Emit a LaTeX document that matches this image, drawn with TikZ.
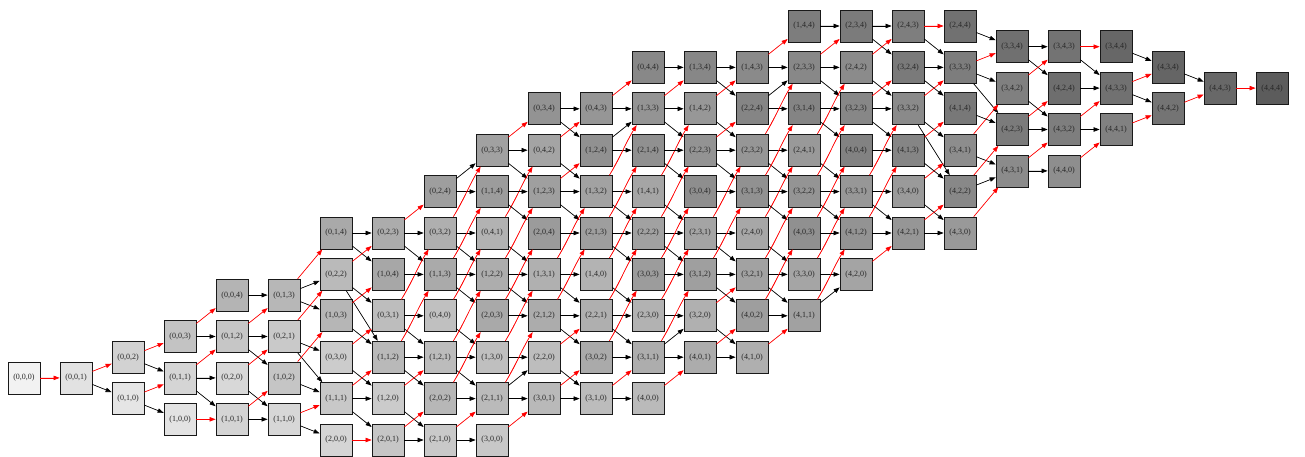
\documentclass[tikz,border=0pt]{standalone}
\usepackage{fontspec}
\setmainfont{Liberation Serif}
\usetikzlibrary{arrows.meta}
\begin{document}
\begin{tikzpicture}[x=1pt,y=1pt,
  st/.style={draw=black!90, line width=0.75pt, minimum width=32pt, minimum height=32pt,
    inner sep=0pt, font=\fontsize{8}{9}\selectfont, text=black!85},
  ed/.style={line width=0.65pt, -{Triangle[length=6pt,width=4.4pt]}},
  redge/.style={ed, draw=red, fill=red},
  bedge/.style={ed, draw=black, fill=black}]
\useasboundingbox (0,0) rectangle (1305,456);
% nodes: a/b/c/row
\foreach \a/\b/\c/\k in {
0/0/0/3, 0/0/1/3,
0/0/2/4, 0/1/0/2,
0/0/3/5, 0/1/1/3, 1/0/0/1,
0/0/4/7, 0/1/2/5, 0/2/0/3, 1/0/1/1,
0/1/3/7, 0/2/1/5, 1/0/2/3, 1/1/0/1,
0/1/4/10, 0/2/2/8, 1/0/3/6, 0/3/0/4, 1/1/1/2, 2/0/0/0,
0/2/3/10, 1/0/4/8, 0/3/1/6, 1/1/2/4, 1/2/0/2, 2/0/1/0,
0/2/4/12, 0/3/2/10, 1/1/3/8, 0/4/0/6, 1/2/1/4, 2/0/2/2, 2/1/0/0,
0/3/3/14, 1/1/4/12, 0/4/1/10, 1/2/2/8, 2/0/3/6, 1/3/0/4, 2/1/1/2, 3/0/0/0,
0/3/4/16, 0/4/2/14, 1/2/3/12, 2/0/4/10, 1/3/1/8, 2/1/2/6, 2/2/0/4, 3/0/1/2,
0/4/3/16, 1/2/4/14, 1/3/2/12, 2/1/3/10, 1/4/0/8, 2/2/1/6, 3/0/2/4, 3/1/0/2,
0/4/4/18, 1/3/3/16, 2/1/4/14, 1/4/1/12, 2/2/2/10, 3/0/3/8, 2/3/0/6, 3/1/1/4, 4/0/0/2,
1/3/4/18, 1/4/2/16, 2/2/3/14, 3/0/4/12, 2/3/1/10, 3/1/2/8, 3/2/0/6, 4/0/1/4,
1/4/3/18, 2/2/4/16, 2/3/2/14, 3/1/3/12, 2/4/0/10, 3/2/1/8, 4/0/2/6, 4/1/0/4,
1/4/4/20, 2/3/3/18, 3/1/4/16, 2/4/1/14, 3/2/2/12, 4/0/3/10, 3/3/0/8, 4/1/1/6,
2/3/4/20, 2/4/2/18, 3/2/3/16, 4/0/4/14, 3/3/1/12, 4/1/2/10, 4/2/0/8,
2/4/3/20, 3/2/4/18, 3/3/2/16, 4/1/3/14, 3/4/0/12, 4/2/1/10,
2/4/4/20, 3/3/3/18, 4/1/4/16, 3/4/1/14, 4/2/2/12, 4/3/0/10,
3/3/4/19, 3/4/2/17, 4/2/3/15, 4/3/1/13,
3/4/3/19, 4/2/4/17, 4/3/2/15, 4/4/0/13,
3/4/4/19, 4/3/3/17, 4/4/1/15,
4/3/4/18, 4/4/2/16,
4/4/3/17,
4/4/4/17}{
  \pgfmathtruncatemacro\col{3*\a+2*\b+\c}
  \pgfmathsetmacro\s{\a+\b+\c}
  \pgfmathtruncatemacro\g{242-14.5*\s+0.17*\s*\s-1.5*(\c-\b)}
  \node[st, fill={rgb,255:red,\g;green,\g;blue,\g}] (n\a\b\c)
    at ({24+52*\col},{16+20.7*\k}) {(\a,\b,\c)};
  \expandafter\xdef\csname kk\a\b\c\endcsname{\k}
}
% edges
\foreach \a in {0,...,4}{
 \foreach \b in {0,...,4}{
  \foreach \c in {0,...,4}{
   \pgfmathtruncatemacro\cp{\c+1}
   \pgfmathtruncatemacro\cm{\c-1}
   \pgfmathtruncatemacro\bp{\b+1}
   \pgfmathtruncatemacro\bm{\b-1}
   \pgfmathtruncatemacro\ap{\a+1}
   \ifnum\c<4
     \edef\ka{\csname kk\a\b\c\endcsname}
     \edef\kb{\csname kk\a\b\cp\endcsname}
     \pgfmathtruncatemacro\dk{\kb-\ka}
     \ifnum\dk>3
       \draw[redge] ([xshift=-3pt]n\a\b\c.north east) to[out=58,in=238] ([xshift=5pt]n\a\b\cp.south west);
     \else
       \draw[redge] (n\a\b\c) -- (n\a\b\cp);
     \fi
   \fi
   \ifnum\c>0 \ifnum\b<4
     \draw[bedge] (n\a\b\c) -- (n\a\bp\cm);
   \fi\fi
   \ifnum\b>0 \ifnum\a<4
     \draw[bedge] (n\a\b\c) -- (n\ap\bm\c);
   \fi\fi
  }
 }
}
\end{tikzpicture}
\end{document}
